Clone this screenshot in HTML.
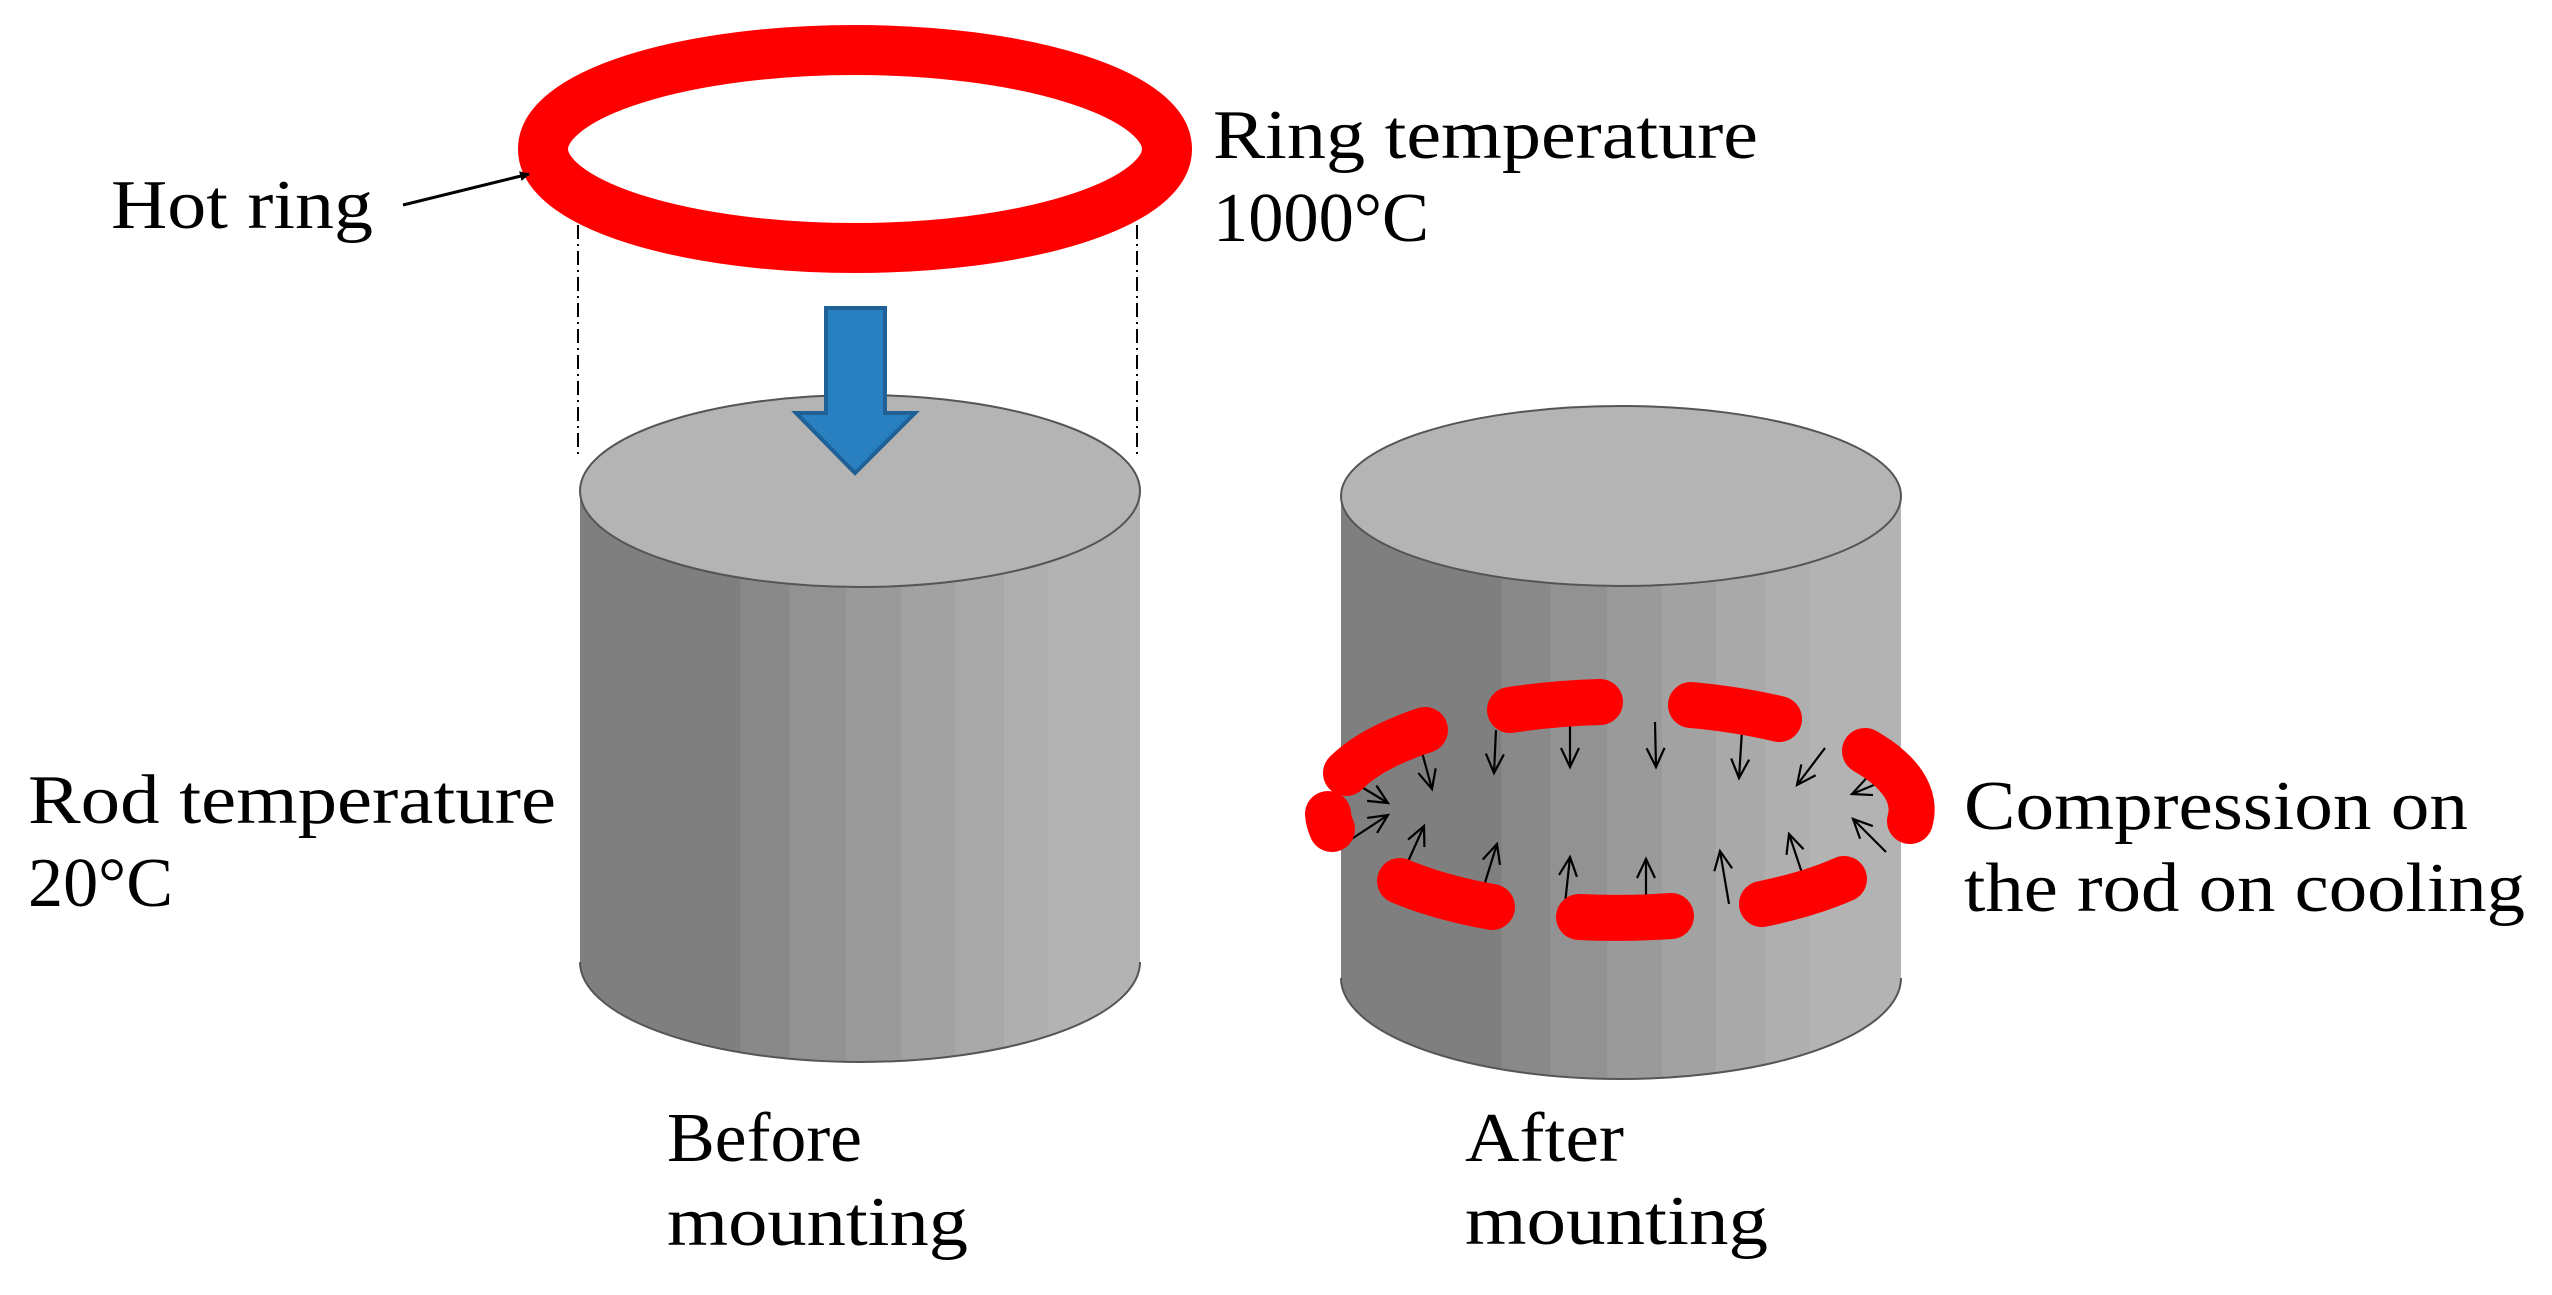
<!DOCTYPE html>
<html><head><meta charset="utf-8"><style>html,body{margin:0;padding:0;background:#fff}svg{display:block}</style></head>
<body>
<svg width="2552" height="1295" viewBox="0 0 2552 1295" xmlns="http://www.w3.org/2000/svg" font-family="'Liberation Serif', serif" font-size="70" fill="#000">
<defs>
<linearGradient id="g1" x1="0" x2="1" y1="0" y2="0">
<stop offset="0" stop-color="#7f7f7f"/><stop offset="0.287" stop-color="#7f7f7f"/>
<stop offset="0.287" stop-color="#898989"/><stop offset="0.374" stop-color="#898989"/>
<stop offset="0.374" stop-color="#929292"/><stop offset="0.475" stop-color="#929292"/>
<stop offset="0.475" stop-color="#9a9a9a"/><stop offset="0.573" stop-color="#9a9a9a"/>
<stop offset="0.573" stop-color="#a2a2a2"/><stop offset="0.67" stop-color="#a2a2a2"/>
<stop offset="0.67" stop-color="#a9a9a9"/><stop offset="0.757" stop-color="#a9a9a9"/>
<stop offset="0.757" stop-color="#afafaf"/><stop offset="0.837" stop-color="#afafaf"/>
<stop offset="0.837" stop-color="#b3b3b3"/><stop offset="1" stop-color="#b3b3b3"/>
</linearGradient>
<marker id="ah" markerWidth="10" markerHeight="10" refX="9" refY="5" orient="auto" markerUnits="userSpaceOnUse" viewBox="0 0 10 10">
<path d="M0,0 L10,5 L0,10 z" fill="#000"/></marker>
<marker id="oa" markerWidth="24" markerHeight="24" refX="21" refY="12" orient="auto" markerUnits="userSpaceOnUse" viewBox="0 0 24 24">
<path d="M2,3 L21,12 L2,21" fill="none" stroke="#000" stroke-width="2.2"/></marker>
</defs>

<!-- ring -->
<ellipse cx="855" cy="149" rx="312" ry="99" fill="none" stroke="#ff0000" stroke-width="50"/>
<line x1="403" y1="205" x2="529" y2="174" stroke="#000" stroke-width="3" marker-end="url(#ah)"/>
<line x1="578" y1="225" x2="578" y2="455" stroke="#000" stroke-width="2" stroke-dasharray="14 5 2 5"/>
<line x1="1137" y1="225" x2="1137" y2="455" stroke="#000" stroke-width="2" stroke-dasharray="14 5 2 5"/>

<!-- left cylinder -->
<path d="M580,491 L580,962 A280,100 0 0 0 1140,962 L1140,491 Z" fill="url(#g1)"/>
<path d="M580,962 A280,100 0 0 0 1140,962" fill="none" stroke="#555" stroke-width="2"/>
<ellipse cx="860" cy="491" rx="280" ry="96" fill="#b4b4b4" stroke="#555" stroke-width="2"/>

<!-- blue arrow -->
<path d="M826,308 L885,308 L885,413 L915,413 L855,473 L796,413 L826,413 Z" fill="#2980c0" stroke="#1f6096" stroke-width="4" stroke-linejoin="miter"/>

<!-- right cylinder -->
<path d="M1341,496 L1341,978 A280,101 0 0 0 1901,978 L1901,496 Z" fill="url(#g1)"/>
<path d="M1341,978 A280,101 0 0 0 1901,978" fill="none" stroke="#555" stroke-width="2"/>
<ellipse cx="1621" cy="496" rx="280" ry="90" fill="#b4b4b4" stroke="#555" stroke-width="2"/>

<!-- compression arrows -->
<g stroke="#000" stroke-width="2.2" fill="none" marker-end="url(#oa)">
<line x1="1420" y1="745" x2="1432" y2="789"/>
<line x1="1496" y1="730" x2="1494" y2="773"/>
<line x1="1570" y1="722" x2="1570" y2="767"/>
<line x1="1655" y1="722" x2="1656" y2="767"/>
<line x1="1742" y1="730" x2="1739" y2="778"/>
<line x1="1825" y1="748" x2="1797" y2="785"/>
<line x1="1350" y1="780" x2="1388" y2="803"/>
<line x1="1350" y1="840" x2="1388" y2="815"/>
<line x1="1886" y1="780" x2="1852" y2="794"/>
<line x1="1886" y1="852" x2="1853" y2="819"/>
<line x1="1406" y1="866" x2="1424" y2="826"/>
<line x1="1483" y1="889" x2="1497" y2="844"/>
<line x1="1565" y1="904" x2="1570" y2="857"/>
<line x1="1646" y1="900" x2="1646" y2="859"/>
<line x1="1729" y1="904" x2="1720" y2="851"/>
<line x1="1803" y1="876" x2="1789" y2="834"/>
</g>
<g fill="none" stroke="#ff0000" stroke-width="46" stroke-linecap="round">
<path d="M1865,751 A292,108 0 0 1 1910,821"/>
<path d="M1691,705 A292,108 0 0 1 1779,719"/>
<path d="M1510,710 A292,108 0 0 1 1600,702"/>
<path d="M1346,773 A292,108 0 0 1 1425,730"/>
<path d="M1332,829 A292,108 0 0 1 1328,814"/>
<path d="M1492,907 A292,108 0 0 1 1400,881"/>
<path d="M1671,916 A292,108 0 0 1 1579,917"/>
<path d="M1844,879 A292,108 0 0 1 1762,904"/>
</g>

<!-- text -->
<text x="111" y="228" textLength="262" lengthAdjust="spacingAndGlyphs">Hot ring</text>
<text x="1213" y="158" textLength="545" lengthAdjust="spacingAndGlyphs">Ring temperature</text>
<text x="1213" y="241" textLength="216" lengthAdjust="spacingAndGlyphs">1000°C</text>
<text x="28" y="823" textLength="528" lengthAdjust="spacingAndGlyphs">Rod temperature</text>
<text x="28" y="906" textLength="145" lengthAdjust="spacingAndGlyphs">20°C</text>
<text x="667" y="1161" textLength="195" lengthAdjust="spacingAndGlyphs">Before</text>
<text x="667" y="1245" textLength="301" lengthAdjust="spacingAndGlyphs">mounting</text>
<text x="1465" y="1161" textLength="159" lengthAdjust="spacingAndGlyphs">After</text>
<text x="1465" y="1244" textLength="303" lengthAdjust="spacingAndGlyphs">mounting</text>
<text x="1964" y="829" textLength="504" lengthAdjust="spacingAndGlyphs">Compression on</text>
<text x="1964" y="911" textLength="561" lengthAdjust="spacingAndGlyphs">the rod on cooling</text>
</svg>
</body></html>
